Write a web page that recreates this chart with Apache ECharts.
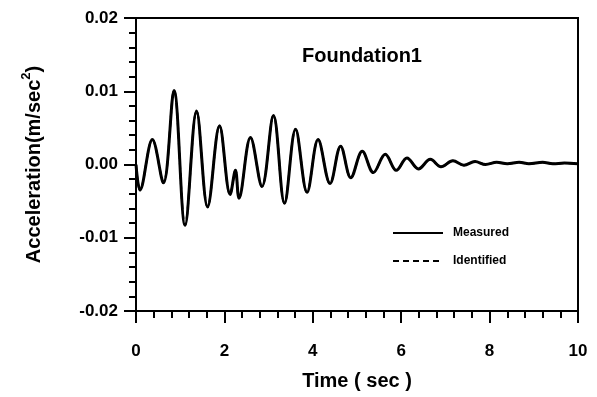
<!DOCTYPE html>
<html>
<head>
<meta charset="utf-8">
<script src="https://cdn.jsdelivr.net/npm/echarts@6/dist/echarts.min.js"></script>
<style>
  html, body { margin: 0; padding: 0; background: #fff; }
  #main { width: 597px; height: 397px; }
</style>
</head>
<body>
<div id="main"></div>
<script>
// peaks and troughs (sec, m/sec^2)
var times = [0.00, 0.09, 0.37, 0.62, 0.86, 1.11, 1.37, 1.62, 1.89, 2.13,
  2.25, 2.33, 2.59, 2.85, 3.11, 3.36, 3.61, 3.87, 4.12, 4.39,
  4.63, 4.86, 5.12, 5.37, 5.64, 5.89, 6.13, 6.39, 6.66, 6.90,
  7.17, 7.42, 7.67, 7.91, 8.16, 8.40, 8.67, 8.89, 9.20, 9.43,
  9.69, 10.0];
var measured = [0.0000, -0.0035, 0.0034, -0.0025, 0.0101, -0.0083, 0.0073, -0.0058, 0.0053, -0.0041,
  -0.0008, -0.0046, 0.0037, -0.0030, 0.0067, -0.0053, 0.0048, -0.0038, 0.0034, -0.0026,
  0.0025, -0.0018, 0.0018, -0.0011, 0.0014, -0.0008, 0.0009, -0.0006, 0.0007, -0.0003,
  0.0005, -0.0001, 0.0004, 0.0000, 0.0003, 0.0001, 0.0003, 0.0001, 0.0003, 0.0001,
  0.0002, 0.0001];
// identified response lies on top of the measured one
var identified = measured.slice();
var xTicks = [0, 2, 4, 6, 8, 10];
var yTicks = [-0.02, -0.01, 0.00, 0.01, 0.02];

var font = 'Liberation Sans, Arial, sans-serif';

function pairs(xs, ys) {
    var out = [];
    for (var i = 0; i < xs.length; i++) out.push([xs[i], ys[i]]);
    return out;
}

var myChart = echarts.init(document.getElementById('main'));

var option = {
    animation: false,
    backgroundColor: '#fff',
    title: {
        text: 'Foundation1',
        left: 357,
        top: 41,
        textAlign: 'center',
        textStyle: { fontFamily: font, fontWeight: 'bold', fontSize: 20, color: '#000' }
    },
    legend: {
        orient: 'vertical',
        left: 387,
        top: 222,
        itemWidth: 50,
        itemHeight: 10,
        itemGap: 16,
        itemStyle: { opacity: 0 },
        textStyle: { fontFamily: font, fontWeight: 'bold', fontSize: 12, color: '#000', padding: [0, 0, 0, 5] },
        data: ['Measured', 'Identified']
    },
    grid: {
        left: 136, right: 19, top: 18, bottom: 86,
        show: true, borderColor: '#000', borderWidth: 2
    },
    xAxis: {
        type: 'value',
        min: xTicks[0], max: xTicks[xTicks.length - 1], interval: 2,
        name: 'Time ( sec )',
        nameLocation: 'middle',
        nameGap: 60,
        nameTextStyle: { fontFamily: font, fontWeight: 'bold', fontSize: 20, color: '#000' },
        axisLine: { onZero: false, lineStyle: { color: '#000', width: 2 } },
        axisTick: { inside: false, length: 12, lineStyle: { color: '#000', width: 2 } },
        minorTick: { show: true, splitNumber: 5, length: 7, lineStyle: { color: '#000', width: 2 } },
        axisLabel: { margin: 32, fontFamily: font, fontWeight: 'bold', fontSize: 17, color: '#000' },
        splitLine: { show: false }
    },
    yAxis: {
        type: 'value',
        min: yTicks[0], max: yTicks[yTicks.length - 1], interval: 0.01,
        name: '{a|Acceleration(m/sec}{s|2}{a|)}',
        nameLocation: 'middle',
        nameGap: 92,
        nameTextStyle: {
            rich: {
                a: { fontFamily: font, fontWeight: 'bold', fontSize: 20, color: '#000', lineHeight: 24, verticalAlign: 'bottom' },
                s: { fontFamily: font, fontWeight: 'bold', fontSize: 13, color: '#000', lineHeight: 24, verticalAlign: 'top' }
            }
        },
        axisLine: { onZero: false, lineStyle: { color: '#000', width: 2 } },
        axisTick: { inside: false, length: 12, lineStyle: { color: '#000', width: 2 } },
        minorTick: { show: true, splitNumber: 5, length: 7, lineStyle: { color: '#000', width: 2 } },
        axisLabel: {
            margin: 18, fontFamily: font, fontWeight: 'bold', fontSize: 17, color: '#000',
            formatter: function (v) { return v.toFixed(2); }
        },
        splitLine: { show: false }
    },
    series: [
        {
            name: 'Measured',
            type: 'line',
            data: pairs(times, measured),
            smooth: 0.36,
            symbol: 'none',
            lineStyle: { color: '#000', width: 3, type: 'solid' },
            itemStyle: { color: '#000' }
        },
        {
            name: 'Identified',
            type: 'line',
            data: pairs(times, identified),
            smooth: 0.36,
            symbol: 'none',
            lineStyle: { color: '#000', width: 2, type: [6, 4] },
            itemStyle: { color: '#000' }
        }
    ]
};

myChart.setOption(option);
</script>
</body>
</html>
